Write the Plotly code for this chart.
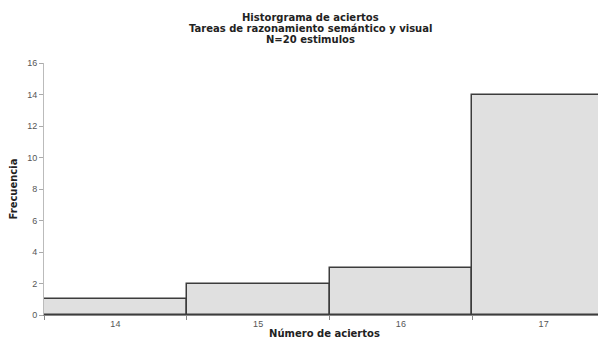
import plotly.graph_objects as go

aciertos = [14, 15, 16, 17]
frecuencia = [1, 2, 3, 14]
y_ticks = [0, 2, 4, 6, 8, 10, 12, 14, 16]
title_lines = ["Historgrama de aciertos",
               "Tareas de razonamiento semántico y visual",
               "N=20 estimulos"]

TITLE_FONT = "DejaVu Sans, Verdana, sans-serif"

fig = go.Figure(go.Bar(
    x=aciertos, y=frecuencia,
    marker=dict(color="#e0e0e0", line=dict(color="#3c3c3c", width=1.5)),
    width=1.0,
))

# page body has an 8px margin; size the figure so the page does not overflow (no scrollbars)
fig.update_layout(
    width=598, height=331,
    paper_bgcolor="white", plot_bgcolor="white",
    margin=dict(l=36, r=1, t=55, b=24, autoexpand=False),
    bargap=0,
    showlegend=False,
    font=dict(family="Liberation Sans, Arial, sans-serif", color="#222"),
)

for line, yy in zip(title_lines, [1.1825, 1.136, 1.092]):
    fig.add_annotation(
        text="<b>%s</b>" % line, xref="paper", yref="paper",
        x=0.475, y=yy, xanchor="center", yanchor="middle", showarrow=False,
        font=dict(family=TITLE_FONT, size=10, color="#222"),
    )

fig.update_xaxes(
    range=[13.5, 17.43],
    tickvals=aciertos, ticktext=[str(a) for a in aciertos],
    ticks="", tickfont=dict(size=9, color="#555"),
    showline=True, linecolor="#888", linewidth=1,
    showgrid=False, zeroline=False,
    minor=dict(tickvals=[13.5, 14.5, 15.5, 16.5], ticks="outside", ticklen=4, tickcolor="#888", showgrid=False),
    title=dict(text="<b>Número de aciertos</b>", font=dict(family=TITLE_FONT, size=10, color="#222"), standoff=5),
)

fig.update_yaxes(
    range=[0, 16],
    tickvals=y_ticks,
    ticks="outside", ticklen=4, tickcolor="#aaa",
    tickfont=dict(size=9, color="#555"),
    showline=True, linecolor="#bbb", linewidth=1,
    showgrid=False, zeroline=False,
    title=dict(text="<b>Frecuencia</b>", font=dict(family=TITLE_FONT, size=10, color="#222"), standoff=8),
)

fig.write_html("out.html")
